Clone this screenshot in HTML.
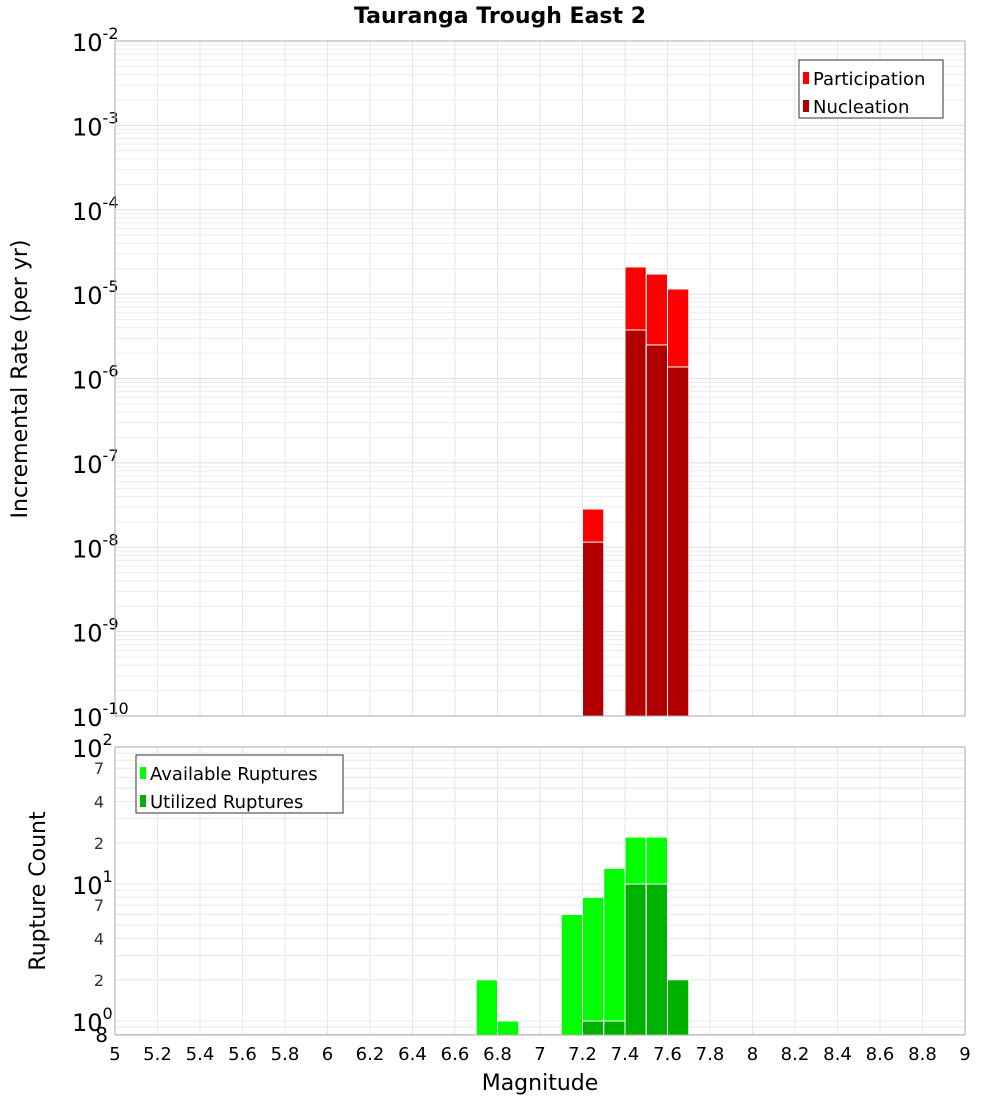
<!DOCTYPE html>
<html><head><meta charset="utf-8"><style>
body{margin:0;background:#fff;}
svg{font-family:"DejaVu Sans","Liberation Sans",sans-serif;}
</style></head><body>
<svg id="c" width="1000" height="1100" xmlns="http://www.w3.org/2000/svg">
<text x="500" y="23" text-anchor="middle" font-size="22" font-weight="bold">Tauranga Trough East 2</text>
<g id="top"></g><g id="bot"></g>
<text transform="translate(27,379) rotate(-90)" text-anchor="middle" font-size="22">Incremental Rate (per yr)</text>
<text transform="translate(45,891) rotate(-90)" text-anchor="middle" font-size="22">Rupture Count</text>
<text x="540" y="1090" text-anchor="middle" font-size="22">Magnitude</text>
</svg>
<script>
const mags=[7.25,7.45,7.55,7.65];
const participation=[2.84e-8,2.1e-5,1.73e-5,1.15e-5];
const nucleation=[1.15e-8,3.76e-6,2.5e-6,1.37e-6];
const cntMags=[6.75,6.85,7.15,7.25,7.35,7.45,7.55,7.65];
const available=[2,1,6,8,13,22,22,2];
const utilized=[0,0,0,1,1,10,10,2];
const xTicks=[5,5.2,5.4,5.6,5.8,6,6.2,6.4,6.6,6.8,7,7.2,7.4,7.6,7.8,8,8.2,8.4,8.6,8.8,9];
const NS="http://www.w3.org/2000/svg";
const X0=115,X1=965;
const x=m=>X0+(m-5)/4*(X1-X0);
const T0=41,T1=716;
const yT=v=>T0+(-2-Math.log10(v))/8*(T1-T0);
const B0=747,B1=1035;
const yB=v=>B0+(2-Math.log10(v))*137;
function el(p,t,a,txt){const e=document.createElementNS(NS,t);for(const k in a)e.setAttribute(k,a[k]);if(txt!==undefined)e.textContent=txt;p.appendChild(e);return e;}
const topG=document.getElementById('top'),botG=document.getElementById('bot');
for(const t of xTicks){
 const g1=el(topG,'line',{x1:x(t),x2:x(t),y1:T0,y2:T1,stroke:'#e6e6e6'});
 
 
 const g2=el(botG,'line',{x1:x(t),x2:x(t),y1:B0,y2:B1,stroke:'#e6e6e6'});
 
 
 const tl=el(botG,'text',{x:x(t),y:1060,'text-anchor':'middle','font-size':18},String(t));
 
 
}
for(let d=-10;d<-2;d++){for(let k=1;k<10;k++){const v=k*Math.pow(10,d);const l=el(topG,'line',{x1:X0,x2:X1,y1:yT(v),y2:yT(v),stroke:k==1?'#dedede':'#ececec'});
 
 }}
for(let d=-10;d<=-2;d++){const yy=yT(Math.pow(10,d));
 const t=el(topG,'text',{x:72,y:yy+10,'font-size':24},'10');
 
 
 el(t,'tspan',{dy:-12,'font-size':16},String(d));}
for(let d=-1;d<2;d++){for(let k=1;k<10;k++){const v=k*Math.pow(10,d);if(v<0.8)continue;const l=el(botG,'line',{x1:X0,x2:X1,y1:yB(v),y2:yB(v),stroke:'#e8e8e8'});
 
 }}
for(const d of [0,1,2]){const yy=yB(Math.pow(10,d));
 const t=el(botG,'text',{x:72,y:yy+10,'font-size':24},'10');
 
 
 el(t,'tspan',{dy:-12,'font-size':16},String(d));}
for(const v of [7,4,2,70,40,20]){const t=el(botG,'text',{x:104,y:yB(v)+6,'font-size':16,'text-anchor':'end',fill:'#333'},String(v)[0]);
 
 }
const t8=el(botG,'text',{x:108,y:1042,'font-size':20,'text-anchor':'end'},'8');


mags.forEach((m,i)=>{
 const r=el(topG,'rect',{x:x(m-0.05),width:x(m+0.05)-x(m-0.05),y:yT(participation[i]),height:T1-yT(participation[i]),fill:'#ff0000',stroke:'#fff','stroke-width':1});
 
 
 const n=el(topG,'rect',{x:x(m-0.05),width:x(m+0.05)-x(m-0.05),y:yT(nucleation[i]),height:T1-yT(nucleation[i]),fill:'#b20000',stroke:'#fff','stroke-width':1});
 
 
});
cntMags.forEach((m,i)=>{
 const a=el(botG,'rect',{x:x(m-0.05),width:x(m+0.05)-x(m-0.05),y:yB(available[i]),height:B1-yB(available[i]),fill:'#00ff00',stroke:'#fff','stroke-width':1});
 
 
 if(utilized[i]>0){const u=el(botG,'rect',{x:x(m-0.05),width:x(m+0.05)-x(m-0.05),y:yB(utilized[i]),height:B1-yB(utilized[i]),fill:'#00b200',stroke:'#fff','stroke-width':1});
 
 }
});
const f1=el(topG,'rect',{x:X0,y:T0,width:X1-X0,height:T1-T0,fill:'none',stroke:'#aaa'});


const f2=el(botG,'rect',{x:X0,y:B0,width:X1-X0,height:B1-B0,fill:'none',stroke:'#aaa'});


function legend(p,x0,y0,w,items,name){const g=el(p,'g',{});
 
 
 el(g,'rect',{x:x0,y:y0,width:w,height:58,fill:'#fff',stroke:'#333'});
 items.forEach((it,i)=>{el(g,'rect',{x:x0+4,y:y0+12+i*28,width:6,height:12,fill:it[1]});
  el(g,'text',{x:x0+14,y:y0+25+i*28,'font-size':18},it[0]);});}
legend(topG,799,60,144,[['Participation','#ff0000'],['Nucleation','#b20000']],'top-legend');
legend(botG,136,755,207,[['Available Ruptures','#00ff00'],['Utilized Ruptures','#00b200']],'bottom-legend');
</script>
</body></html>
